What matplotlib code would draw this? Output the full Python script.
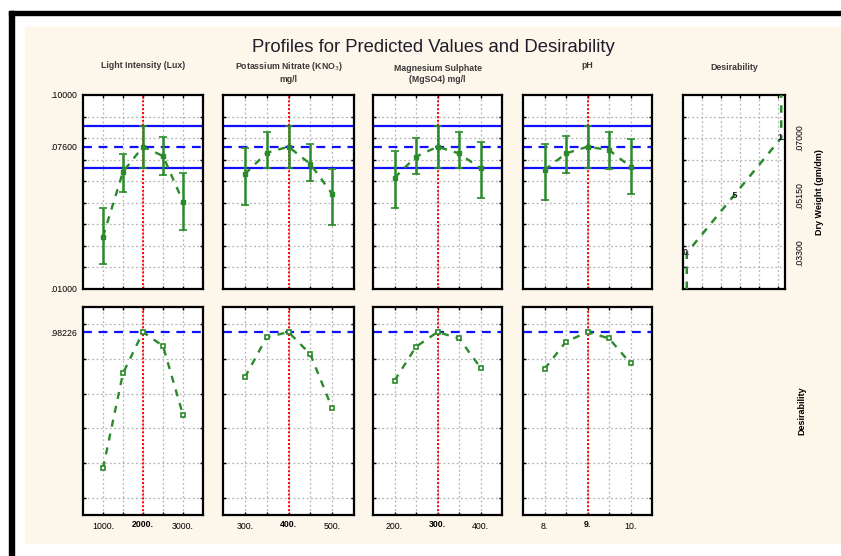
import numpy as np
import matplotlib
matplotlib.use("Agg")
import matplotlib.pyplot as plt
from matplotlib.patches import Rectangle

plt.rcParams['font.family'] = ['Liberation Sans', 'DejaVu Sans']

# ---------------------------------------------------------------- data
headers = ["Light Intensity (Lux)", "Potassium Nitrate (KNO$_3$)\nmg/l",
           "Magnesium Sulphate\n(MgSO4) mg/l", "pH"]

light = [1000, 1500, 2000, 2500, 3000]
kno3 = [300, 350, 400, 450, 500]
mgso4 = [200, 250, 300, 350, 400]
ph = [8, 8.5, 9, 9.5, 10]

light_tick_labels = ["1000.", "2000.", "3000."]
kno3_tick_labels = ["300.", "400.", "500."]
mgso4_tick_labels = ["200.", "300.", "400."]
ph_tick_labels = ["8.", "9.", "10."]

# predicted dry weight with confidence limits
dw_light = [0.0343, 0.0644, 0.0760, 0.0717, 0.0505]
dw_light_lo = [0.0216, 0.0552, 0.0663, 0.0629, 0.0374]
dw_light_hi = [0.0474, 0.0725, 0.0858, 0.0804, 0.0640]

dw_kno3 = [0.0633, 0.0732, 0.0760, 0.0680, 0.0541]
dw_kno3_lo = [0.0490, 0.0660, 0.0663, 0.0601, 0.0397]
dw_kno3_hi = [0.0756, 0.0828, 0.0858, 0.0771, 0.0657]

dw_mgso4 = [0.0616, 0.0714, 0.0760, 0.0729, 0.0660]
dw_mgso4_lo = [0.0474, 0.0632, 0.0663, 0.0660, 0.0524]
dw_mgso4_hi = [0.0742, 0.0802, 0.0858, 0.0828, 0.0780]

dw_ph = [0.0652, 0.0729, 0.0760, 0.0745, 0.0667]
dw_ph_lo = [0.0513, 0.0640, 0.0663, 0.0657, 0.0539]
dw_ph_hi = [0.0771, 0.0810, 0.0858, 0.0827, 0.0794]

dw_opt = 0.076
dw_opt_lo = 0.0663
dw_opt_hi = 0.0858

# desirability of each level
des_light = [0.251, 0.761, 0.982, 0.907, 0.537]
des_kno3 = [0.739, 0.954, 0.982, 0.863, 0.573]
des_mgso4 = [0.721, 0.903, 0.982, 0.948, 0.791]
des_ph = [0.784, 0.930, 0.982, 0.948, 0.814]
des_max = 0.98226

# desirability function for dry weight
spec_dw = [0.033, 0.0515, 0.070]
spec_des = [0.0, 0.5, 1.0]
spec_labels = ["0.", ".5", "1."]

# ---------------------------------------------------------------- layout
W, H = 841, 556
GREEN = "#2b8a2b"
BLUE = "#1010ff"
CREAM = "#fdf6ea"


def box(x0, y0, x1, y1):
    return [x0 / W, 1 - y1 / H, (x1 - x0) / W, (y1 - y0) / H]


fig = plt.figure(figsize=(W / 100, H / 100), dpi=100, facecolor="white")

# frame and cream background
fig.patches.append(Rectangle((25 / W, 1 - 543 / H), 1, (543 - 27) / H,
                             transform=fig.transFigure, color=CREAM, zorder=-5))
fig.patches.append(Rectangle((9 / W, 1 - 15 / H), 1, 4 / H,
                             transform=fig.transFigure, color="black", zorder=-4))
fig.patches.append(Rectangle((9 / W, 0), 5 / W, 1 - 11 / H,
                             transform=fig.transFigure, color="black", zorder=-4))

cols = [(83, 203), (223, 354), (373, 502), (523, 652)]
top_y = (95, 289)
bot_y = (307, 515)

factors = [light, kno3, mgso4, ph]
tick_labels = [light_tick_labels, kno3_tick_labels, mgso4_tick_labels, ph_tick_labels]
dw_mean = [dw_light, dw_kno3, dw_mgso4, dw_ph]
dw_lo = [dw_light_lo, dw_kno3_lo, dw_mgso4_lo, dw_ph_lo]
dw_hi = [dw_light_hi, dw_kno3_hi, dw_mgso4_hi, dw_ph_hi]
des_vals = [des_light, des_kno3, des_mgso4, des_ph]

grid_kw = dict(color="#b4b4b4", linestyle=(0, (1.5, 2)), linewidth=0.9)
des_top = des_max * 208 / 183

for i in range(4):
    x = np.array(factors[i], dtype=float)
    step = x[1] - x[0]
    xl = (x[0] - step, x[-1] + step)

    # ---- top: predicted dry weight
    ax = fig.add_axes(box(cols[i][0], top_y[0], cols[i][1], top_y[1]))
    ax.set_facecolor("white")
    ax.set_xlim(*xl)
    ax.set_ylim(0.01, 0.10)
    ax.set_xticks(x)
    ax.set_yticks(np.arange(0.02, 0.0951, 0.01))
    ax.grid(True, **grid_kw)
    ax.set_xticklabels([])
    ax.set_yticklabels([])
    ax.tick_params(direction="in", length=2.5, width=1, top=True, right=True)
    for s in ax.spines.values():
        s.set_linewidth(1.6)
    ax.axhline(dw_opt_hi, color=BLUE, lw=1.6)
    ax.axhline(dw_opt_lo, color=BLUE, lw=1.6)
    ax.axhline(dw_opt, color=BLUE, lw=1.6, dashes=(4, 3))
    ax.axvline(x[2], color="red", lw=1.4, linestyle=(0, (1, 1)))
    m = np.array(dw_mean[i])
    yerr = [m - np.array(dw_lo[i]), np.array(dw_hi[i]) - m]
    ax.errorbar(x, m, yerr=yerr, fmt="none", ecolor=GREEN, elinewidth=1.8,
                capsize=2.8, capthick=1.2, zorder=4)
    ax.plot(x, m, color=GREEN, lw=1.7, dashes=(3, 3), marker="s", ms=2.2,
            zorder=5)
    ax.set_title(headers[i], fontsize=6.3, fontweight="bold", color="#3a3a3a",
                 pad=18 if "\n" not in headers[i] else 8, va="bottom",
                 loc="center")
    if i == 0:
        ax.set_yticks([0.01, 0.076, 0.10], minor=True)
        ax.set_yticklabels([".01000", ".07600", ".10000"], minor=True)
        ax.tick_params(which="minor", length=0, labelsize=6.3, pad=4)

    # ---- bottom: desirability
    bx = fig.add_axes(box(cols[i][0], bot_y[0], cols[i][1], bot_y[1]))
    bx.set_facecolor("white")
    bx.set_xlim(*xl)
    bx.set_ylim(0, des_top)
    bx.set_xticks(x)
    bx.set_yticks(des_top * (np.arange(6) + 0.5) / 6)
    bx.grid(True, **grid_kw)
    bx.set_yticklabels([])
    bx.set_xticklabels([tick_labels[i][0], "", tick_labels[i][1], "",
                        tick_labels[i][2]])
    bx.tick_params(direction="in", length=2.5, width=1, top=True, right=True,
                   labelsize=6.3, pad=5)
    lbls = bx.get_xticklabels()
    lbls[2].set_fontweight("bold")
    lbls[2].set_y(0.01)
    for s in bx.spines.values():
        s.set_linewidth(1.6)
    bx.axhline(des_max, color=BLUE, lw=1.6, dashes=(4, 3))
    bx.axvline(x[2], color="red", lw=1.4, linestyle=(0, (1, 1)))
    bx.plot(x, des_vals[i], color=GREEN, lw=1.7, dashes=(3, 3), marker="s",
            ms=3.5, mfc="white", mec=GREEN, mew=1.2, zorder=5)
    if i == 0:
        bx.set_yticks([des_max], minor=True)
        bx.set_yticklabels([".98226"], minor=True)
        bx.tick_params(which="minor", length=0, labelsize=6.3, pad=4)

# ---- desirability function panel
dx = fig.add_axes(box(683, top_y[0], 785, top_y[1]))
dx.set_facecolor("white")
dx.set_xlim(0, 1.07)
dx.set_ylim(0.01, 0.10)
dx.set_xticks(np.arange(0.2, 1.01, 0.2))
dx.set_yticks(np.arange(0.02, 0.0951, 0.01))
dx.grid(True, **grid_kw)
dx.set_xticklabels([])
dx.set_yticklabels([])
dx.tick_params(direction="in", length=2.5, width=1, top=True, right=False)
for s in dx.spines.values():
    s.set_linewidth(1.6)
dx.set_title("Desirability", fontsize=6.3, fontweight="bold", color="#3a3a3a",
             pad=18)

cx = fig.add_axes(box(683, top_y[0], 785, top_y[1]), frameon=False)
cx.patch.set_alpha(0)
cx.set_xlim(-0.04, 1.04)
cx.set_ylim(0.0214, 0.0838)
cx.set_xticks([])
cx.plot([spec_des[0]] + spec_des + [spec_des[-1]],
        [0.0214] + spec_dw + [0.0838],
        color=GREEN, lw=1.8, dashes=(3, 3), clip_on=False)
for d, w, t in zip(spec_des, spec_dw, spec_labels):
    cx.text(d, w, t, fontsize=6.5, fontweight="bold", ha="center", va="center",
            color="#202020")
cx.yaxis.tick_right()
cx.yaxis.set_label_position("right")
cx.set_yticks(spec_dw)
cx.set_yticklabels([".03300", ".05150", ".07000"], rotation=90, va="center")
cx.tick_params(axis="y", length=0, labelsize=6.3, pad=7)
cx.set_ylabel("Dry Weight (gm/dm)", fontsize=6.5, fontweight="bold",
              rotation=90, labelpad=8)

fig.text(802 / W, 1 - 411 / H, "Desirability", rotation=90, fontsize=6.5,
         fontweight="bold", ha="center", va="center")

fig.text(433 / W, 1 - 47 / H, "Profiles for Predicted Values and Desirability",
         fontsize=13.3, ha="center", va="center", color="#1e1e2a")

fig.savefig("out.png", dpi=100, facecolor="white")
